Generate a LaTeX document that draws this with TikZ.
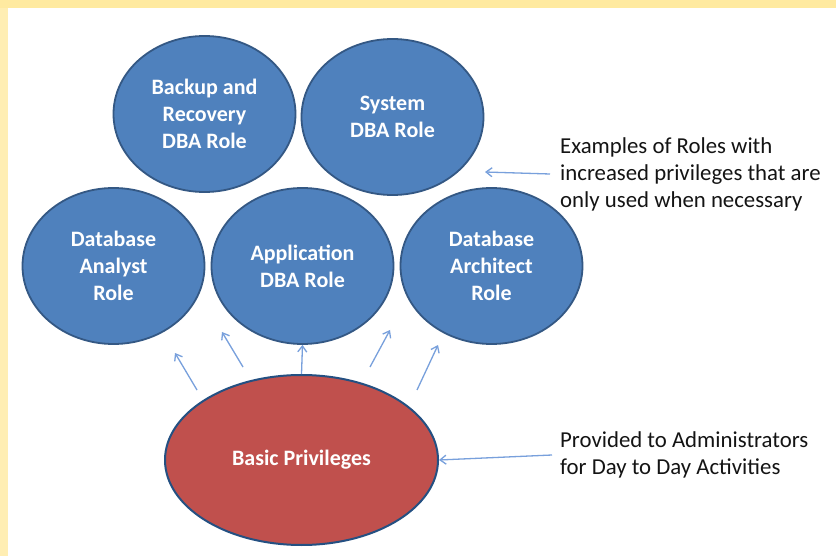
\documentclass[tikz,border=0pt]{standalone}
\usepackage{fontspec}
\setmainfont{Carlito}
\usetikzlibrary{shapes.geometric,arrows.meta}
\definecolor{roleblue}{RGB}{79,129,189}
\definecolor{roleedge}{RGB}{52,88,132}
\definecolor{basicred}{RGB}{192,80,77}
\definecolor{basicedge}{RGB}{36,80,130}
\definecolor{arrowblue}{RGB}{120,160,220}
\definecolor{frameyellow}{RGB}{255,234,160}
\tikzset{
  role/.style={ellipse, draw=roleedge, fill=roleblue, line width=1.8pt,
    minimum width=182pt, minimum height=156pt, inner sep=0pt,
    text=white, align=center, font=\fontsize{22}{27}\selectfont\bfseries},
  basic/.style={ellipse, draw=basicedge, fill=basicred, line width=2pt,
    minimum width=273pt, minimum height=170pt, inner sep=0pt,
    text=white, align=center, font=\fontsize{22}{27}\selectfont\bfseries},
  note/.style={anchor=west, align=left, inner sep=0pt, text=black!92,
    font=\fontsize{22.8}{27}\selectfont},
  arr/.style={draw=arrowblue, line width=1.3pt, -{Straight Barb[length=6pt,width=9pt]}}
}
\begin{document}
\begin{tikzpicture}[x=1pt,y=-1pt]
\useasboundingbox (0,0) rectangle (836,556);
\fill[white] (0,0) rectangle (836,556);
\fill[frameyellow] (0,0) rectangle (836,8);
\fill[frameyellow!80!white] (0,8) rectangle (8,556);

\node[role] (backup) at (204.5,114) {Backup and\\Recovery\\DBA Role};
\node[role] (system) at (392.5,117) {System\\DBA Role};
\node[role] (analyst) at (113.5,266) {Database\\Analyst\\Role};
\node[role] (app) at (302.5,266) {Application\\DBA Role};
\node[role] (arch) at (491.5,266) {Database\\Architect\\Role};
\node[basic] (basic) at (301.5,460) {Basic Privileges};

\node[note] (ex) at (560,174) {Examples of Roles with\\increased privileges that are\\only used when necessary};
\node[note] (prov) at (560,455) {Provided to Administrators\\for Day to Day Activities};

\coordinate (s1) at (197,390); \coordinate (e1) at (175,353);
\coordinate (s2) at (243,367); \coordinate (e2) at (222,332);
\coordinate (s4) at (370,367); \coordinate (e4) at (390,330);
\coordinate (s5) at (417,390); \coordinate (e5) at (438,345);
\coordinate (e6) at (485,172);

\draw[arr] (s1) -- (e1);
\draw[arr] (s2) -- (e2);
\draw[arr] (basic.north) -- (app.south);
\draw[arr] (s4) -- (e4);
\draw[arr] (s5) -- (e5);
\draw[arr] ([xshift=-10pt]ex.west) -- (e6);
\draw[arr] ([xshift=-8pt]prov.west) -- (basic.east);
\end{tikzpicture}
\end{document}
